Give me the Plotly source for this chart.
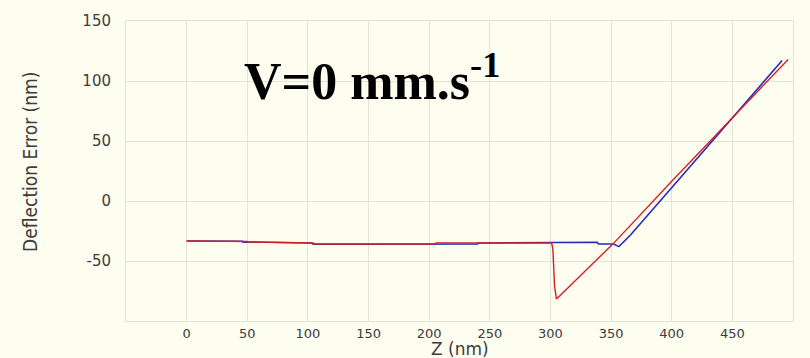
import plotly.graph_objects as go

# Approach (blue) curve: Z (nm) vs deflection error (nm)
blue_z = [0, 46, 46.5, 54, 54.5, 103, 104, 107, 205, 205.5, 240, 240.5, 300, 338.5, 339.5, 352, 356.4, 366, 405.5, 450, 491]
blue_d = [-33.3, -33.6, -34.4, -34.4, -34.2, -35.0, -35.8, -36.0, -35.8, -35.8, -35.8, -35.0, -34.4, -34.4, -35.8, -35.8, -38.0, -28.3, 17.5, 69.0, 117.0]

# Retract (red) curve
red_z = [0, 46, 50, 51, 104, 106, 204, 206, 300, 301, 302, 303.4, 305, 352, 401, 450, 496]
red_d = [-33.2, -33.4, -33.8, -34.2, -35.0, -35.8, -35.8, -35.0, -34.4, -35.0, -40.0, -71.4, -81.7, -35.3, 17.5, 69.5, 118.0]

x_ticks = [0, 50, 100, 150, 200, 250, 300, 350, 400, 450]
y_ticks = [-50, 0, 50, 100, 150]
y_ticktext = ["-50", "0", "50", "100", "150"]

x_title = "Z (nm)"
y_title = "Deflection Error (nm)"
label = "<b>V=0 mm.s<sup>-1</sup></b>"

bg = "#FDFDF0"
grid = "#E4E4D6"
txt = "#3C3C3C"

fig = go.Figure()
fig.add_trace(go.Scatter(x=blue_z, y=blue_d, mode="lines",
                         line=dict(color="#2A2AB8", width=1.6), showlegend=False))
fig.add_trace(go.Scatter(x=red_z, y=red_d, mode="lines",
                         line=dict(color="#D42222", width=1.4), showlegend=False))

fig.update_layout(
    width=810, height=358,
    margin=dict(l=126, r=17, t=21, b=37),
    paper_bgcolor=bg, plot_bgcolor=bg,
    font=dict(family="DejaVu Sans", size=15, color=txt),
    xaxis=dict(range=[-50, 500], tickvals=x_ticks, showgrid=True, gridcolor=grid,
               gridwidth=1, showline=True, linecolor=grid, mirror=True,
               zeroline=False, ticks="", tickfont=dict(size=13, color=txt),
               ticklabelstandoff=0, automargin=False),
    yaxis=dict(range=[-100, 150], tickvals=y_ticks, ticktext=y_ticktext,
               showgrid=True, gridcolor=grid,
               gridwidth=1, showline=True, linecolor=grid, mirror=True,
               zeroline=False, ticks="", ticklabelstandoff=11, automargin=False,
               tickfont=dict(size=15, color=txt)),
    annotations=[
        dict(x=46, y=103, xref="x", yref="y", xanchor="left", yanchor="middle",
             text=label, showarrow=False,
             font=dict(family="Liberation Serif, Times New Roman", size=52, color="#000000")),
        dict(x=0.5, y=-0.093, xref="paper", yref="paper", xanchor="center", yanchor="middle",
             text=x_title, showarrow=False, borderpad=0,
             font=dict(family="DejaVu Sans", size=17, color=txt)),
        dict(x=-0.144, y=0.53, xref="paper", yref="paper", xanchor="center", yanchor="middle",
             text=y_title, showarrow=False, textangle=-90,
             font=dict(family="Liberation Sans Narrow, DejaVu Sans Condensed", size=19, color=txt)),
    ],
)

fig.write_html("out.html")
